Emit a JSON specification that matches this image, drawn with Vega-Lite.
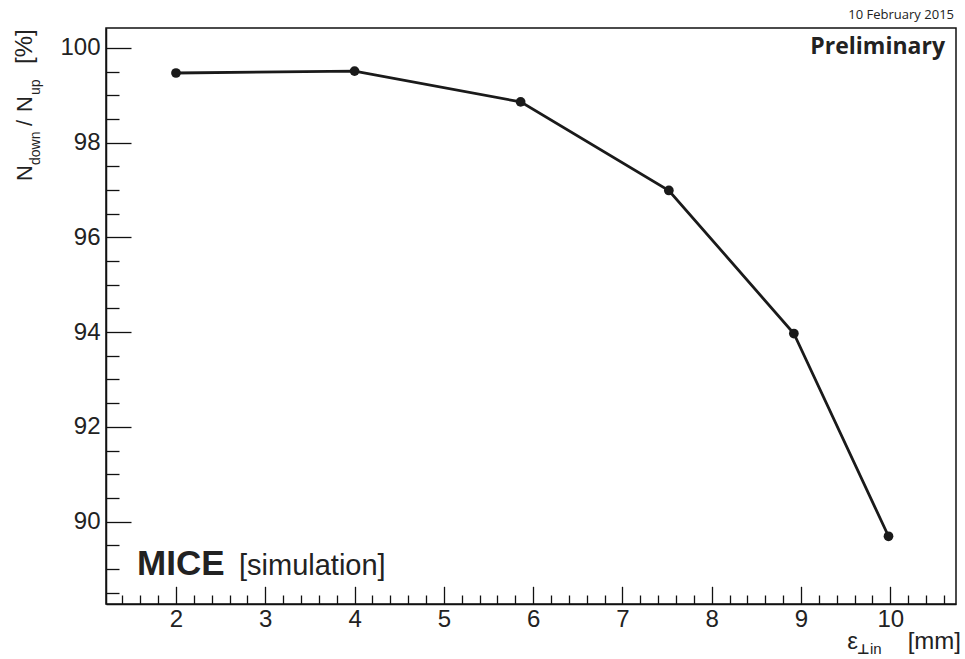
{
  "$schema": "https://vega.github.io/schema/vega-lite/v6.json",
  "width": 850,
  "height": 576,
  "autosize": {"type": "none"},
  "padding": {"left": 106, "top": 28, "right": 9, "bottom": 55},
  "background": "white",
  "config": {
    "view": {"stroke": "#111111", "strokeWidth": 1.5},
    "font": "Liberation Sans"
  },
  "datasets": {
    "pts": [
      {"emittance": 2.0, "ratio": 99.47},
      {"emittance": 4.0, "ratio": 99.51},
      {"emittance": 5.86, "ratio": 98.86},
      {"emittance": 7.52, "ratio": 96.99},
      {"emittance": 8.92, "ratio": 93.97},
      {"emittance": 9.98, "ratio": 89.69}
    ]
  },
  "layer": [
    {
      "data": {"name": "pts"},
      "mark": {"type": "point", "opacity": 0},
      "encoding": {
        "x": {"field": "emittance", "type": "quantitative",
          "scale": {"domain": [1.216, 10.736], "nice": false, "zero": false},
          "axis": {"orient": "bottom", "values": [1.4,1.6,1.8,2.2,2.4,2.6,2.8,3.2,3.4,3.6,3.8,4.2,4.4,4.6,4.8,5.2,5.4,5.6,5.8,6.2,6.4,6.6,6.8,7.2,7.4,7.6,7.8,8.2,8.4,8.6,8.8,9.2,9.4,9.6,9.8,10.2,10.4,10.6],
            "labels": false, "domain": false, "grid": false, "title": null,
            "tickSize": -9, "tickColor": "#111111", "tickWidth": 1.3}},
        "y": {"field": "ratio", "type": "quantitative",
          "scale": {"domain": [88.26, 100.42], "nice": false, "zero": false},
          "axis": {"orient": "left", "values": [88.5,89,89.5,90.5,91,91.5,92.5,93,93.5,94.5,95,95.5,96.5,97,97.5,98.5,99,99.5],
            "labels": false, "domain": false, "grid": false, "title": null,
            "tickSize": -13, "tickColor": "#111111", "tickWidth": 1.3}}
      }
    },
    {
      "data": {"name": "pts"},
      "mark": {"type": "line", "color": "#1a1a1a", "strokeWidth": 2.8},
      "encoding": {
        "x": {"field": "emittance", "type": "quantitative",
          "scale": {"domain": [1.216, 10.736], "nice": false, "zero": false},
          "axis": {"orient": "bottom", "values": [2,3,4,5,6,7,8,9,10],
            "grid": false, "title": null, "tickSize": -17.7, "tickColor": "#111111", "tickWidth": 1.3,
            "domainColor": "#111111", "domainWidth": 1.5,
            "labelFont": "Liberation Sans", "labelFontSize": 24, "labelColor": "#222222",
            "labelPadding": 21, "labelOverlap": false, "labelFlush": false, "labelBound": false}},
        "y": {"field": "ratio", "type": "quantitative",
          "scale": {"domain": [88.26, 100.42], "nice": false, "zero": false},
          "axis": {"orient": "left", "values": [90,92,94,96,98,100],
            "grid": false, "title": null, "tickSize": -25, "tickColor": "#111111", "tickWidth": 1.3,
            "domainColor": "#111111", "domainWidth": 1.5,
            "labelFont": "Liberation Sans", "labelFontSize": 24, "labelColor": "#222222",
            "labelPadding": 31, "labelOverlap": false, "labelFlush": false, "labelBound": false}}
      }
    },
    {
      "data": {"name": "pts"},
      "mark": {"type": "point", "filled": true, "color": "#1a1a1a", "opacity": 1, "size": 95},
      "encoding": {
        "x": {"field": "emittance", "type": "quantitative", "scale": {"domain": [1.216, 10.736], "nice": false, "zero": false}, "axis": null},
        "y": {"field": "ratio", "type": "quantitative", "scale": {"domain": [88.26, 100.42], "nice": false, "zero": false}, "axis": null}
      }
    },
    {
      "data": {"values": [{"t": "10 February 2015"}]},
      "mark": {"type": "text", "font": "Open Sans", "fontSize": 13, "color": "#222222", "align": "right", "baseline": "alphabetic", "dx": -2, "dy": -9.5},
      "encoding": {
        "x": {"datum": 10.736, "type": "quantitative", "axis": null},
        "y": {"datum": 100.42, "type": "quantitative", "axis": null},
        "text": {"field": "t"}
      }
    },
    {
      "data": {"values": [{"t": "Preliminary"}]},
      "mark": {"type": "text", "font": "Open Sans", "fontWeight": "bold", "fontSize": 23, "color": "#222222", "align": "right", "baseline": "alphabetic", "dx": -11, "dy": 26},
      "encoding": {
        "x": {"datum": 10.736, "type": "quantitative", "axis": null},
        "y": {"datum": 100.42, "type": "quantitative", "axis": null},
        "text": {"field": "t"}
      }
    },
    {
      "data": {"values": [{"t": "MICE"}]},
      "mark": {"type": "text", "font": "Liberation Sans", "fontWeight": "bold", "fontSize": 35, "color": "#222222", "align": "left", "baseline": "alphabetic", "dx": 31, "dy": -29},
      "encoding": {
        "x": {"datum": 1.216, "type": "quantitative", "axis": null},
        "y": {"datum": 88.26, "type": "quantitative", "axis": null},
        "text": {"field": "t"}
      }
    },
    {
      "data": {"values": [{"t": "[simulation]"}]},
      "mark": {"type": "text", "font": "Liberation Sans", "fontSize": 29, "color": "#222222", "align": "left", "baseline": "alphabetic", "dx": 133, "dy": -29},
      "encoding": {
        "x": {"datum": 1.216, "type": "quantitative", "axis": null},
        "y": {"datum": 88.26, "type": "quantitative", "axis": null},
        "text": {"field": "t"}
      }
    },
    {
      "data": {"values": [{"t": "[mm]"}]},
      "mark": {"type": "text", "font": "Liberation Sans", "fontSize": 24, "color": "#222222", "align": "right", "baseline": "alphabetic", "dx": 5, "dy": 45},
      "encoding": {
        "x": {"datum": 10.736, "type": "quantitative", "axis": null},
        "y": {"datum": 88.26, "type": "quantitative", "axis": null},
        "text": {"field": "t"}
      }
    },
    {
      "data": {"values": [{"t": "ε"}]},
      "mark": {"type": "text", "font": "Liberation Sans", "fontSize": 24, "color": "#222222", "align": "right", "baseline": "alphabetic", "dx": -98, "dy": 45},
      "encoding": {
        "x": {"datum": 10.736, "type": "quantitative", "axis": null},
        "y": {"datum": 88.26, "type": "quantitative", "axis": null},
        "text": {"field": "t"}
      }
    },
    {
      "data": {"values": [{"t": "⊥"}]},
      "mark": {"type": "text", "font": "DejaVu Sans", "fontWeight": "bold", "fontSize": 14, "color": "#222222", "align": "left", "baseline": "alphabetic", "dx": -99, "dy": 50},
      "encoding": {
        "x": {"datum": 10.736, "type": "quantitative", "axis": null},
        "y": {"datum": 88.26, "type": "quantitative", "axis": null},
        "text": {"field": "t"}
      }
    },
    {
      "data": {"values": [{"t": "in"}]},
      "mark": {"type": "text", "font": "Liberation Sans", "fontSize": 15, "color": "#222222", "align": "left", "baseline": "alphabetic", "dx": -86, "dy": 50},
      "encoding": {
        "x": {"datum": 10.736, "type": "quantitative", "axis": null},
        "y": {"datum": 88.26, "type": "quantitative", "axis": null},
        "text": {"field": "t"}
      }
    },
    {
      "data": {"values": [{"t": "N"}]},
      "mark": {"type": "text", "font": "Liberation Sans", "fontSize": 22, "color": "#222222", "align": "left", "baseline": "alphabetic", "angle": 270, "dx": 423, "dy": -74},
      "encoding": {
        "x": {"datum": 1.216, "type": "quantitative", "axis": null},
        "y": {"datum": 88.26, "type": "quantitative", "axis": null},
        "text": {"field": "t"}
      }
    },
    {
      "data": {"values": [{"t": "down"}]},
      "mark": {"type": "text", "font": "Liberation Sans", "fontSize": 14, "color": "#222222", "align": "left", "baseline": "alphabetic", "angle": 270, "dx": 439, "dy": -66},
      "encoding": {
        "x": {"datum": 1.216, "type": "quantitative", "axis": null},
        "y": {"datum": 88.26, "type": "quantitative", "axis": null},
        "text": {"field": "t"}
      }
    },
    {
      "data": {"values": [{"t": "/"}]},
      "mark": {"type": "text", "font": "Liberation Sans", "fontSize": 22, "color": "#222222", "align": "center", "baseline": "alphabetic", "angle": 270, "dx": 481, "dy": -74},
      "encoding": {
        "x": {"datum": 1.216, "type": "quantitative", "axis": null},
        "y": {"datum": 88.26, "type": "quantitative", "axis": null},
        "text": {"field": "t"}
      }
    },
    {
      "data": {"values": [{"t": "N"}]},
      "mark": {"type": "text", "font": "Liberation Sans", "fontSize": 22, "color": "#222222", "align": "left", "baseline": "alphabetic", "angle": 270, "dx": 492, "dy": -74},
      "encoding": {
        "x": {"datum": 1.216, "type": "quantitative", "axis": null},
        "y": {"datum": 88.26, "type": "quantitative", "axis": null},
        "text": {"field": "t"}
      }
    },
    {
      "data": {"values": [{"t": "up"}]},
      "mark": {"type": "text", "font": "Liberation Sans", "fontSize": 14, "color": "#222222", "align": "left", "baseline": "alphabetic", "angle": 270, "dx": 509, "dy": -66},
      "encoding": {
        "x": {"datum": 1.216, "type": "quantitative", "axis": null},
        "y": {"datum": 88.26, "type": "quantitative", "axis": null},
        "text": {"field": "t"}
      }
    },
    {
      "data": {"values": [{"t": "[%]"}]},
      "mark": {"type": "text", "font": "Liberation Sans", "fontSize": 24, "color": "#222222", "align": "left", "baseline": "alphabetic", "angle": 270, "dx": 540, "dy": -74},
      "encoding": {
        "x": {"datum": 1.216, "type": "quantitative", "axis": null},
        "y": {"datum": 88.26, "type": "quantitative", "axis": null},
        "text": {"field": "t"}
      }
    }
  ],
  "resolve": {"axis": {"x": "independent", "y": "independent"}}
}
